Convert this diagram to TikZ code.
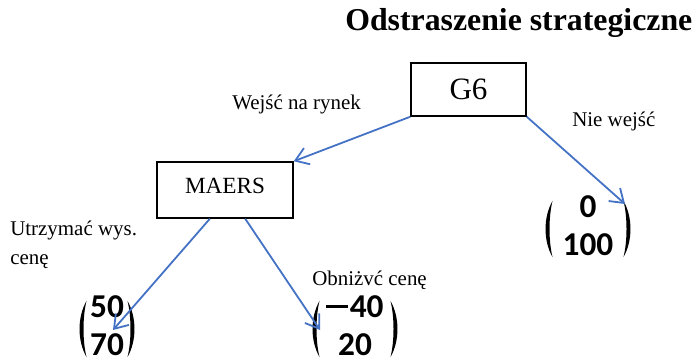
\documentclass[tikz,border=0pt]{standalone}
\usepackage{fontspec}
\setmainfont{Liberation Serif}
\newfontfamily\digitfont{Carlito}
\usetikzlibrary{arrows.meta,calc}

\definecolor{linkblue}{RGB}{68,114,196}

\tikzset{
  box/.style={draw=black, line width=1.1pt, rectangle, inner sep=0pt},
  lbl/.style={font=\fontsize{15.7}{18}\selectfont, inner sep=0pt, anchor=base west},
  heading/.style={font=\bfseries\fontsize{23.85}{28}\selectfont, inner sep=0pt, anchor=base west},
  link/.style={draw=linkblue, line width=1.35pt, -{Straight Barb[length=9.5pt,width=13pt,line width=1.35pt]}},
  mat/.style={font=\digitfont\bfseries\fontsize{25}{28.5}\selectfont, inner sep=0pt},
}

% a pair of tapered round brackets around a payoff vector
\newcommand\matparens[2]{%
  \fill ($(#1)+(-#2+7,-28)$) .. controls ($(#1)+(-#2-2.3,-12)$) and ($(#1)+(-#2-2.3,12)$) .. ($(#1)+(-#2+7,28)$)
        .. controls ($(#1)+(-#2+3,12)$) and ($(#1)+(-#2+3,-12)$) .. cycle;
  \fill ($(#1)+(#2-7,-28)$) .. controls ($(#1)+(#2+2.3,-12)$) and ($(#1)+(#2+2.3,12)$) .. ($(#1)+(#2-7,28)$)
        .. controls ($(#1)+(#2-3,12)$) and ($(#1)+(#2-3,-12)$) .. cycle;
}
% long minus sign for the payoffs
\newcommand\payminus{\rule[7.2pt]{16pt}{2.2pt}\hspace{1.5pt}}

\begin{document}
\begin{tikzpicture}[x=0.75pt,y=-0.75pt]
\useasboundingbox (0,0) rectangle (695,363);

% title
\node[heading] (title) at (345,31) {Odstraszenie strategiczne};

% decision nodes
\node[box, minimum width=86.25pt, minimum height=39.75pt, font=\fontsize{23.3}{26}\selectfont] (g6) at (468.5,89.5) {G6};
\node[box, minimum width=102pt, minimum height=42pt, text depth=6pt, font=\fontsize{17.4}{20}\selectfont] (maers) at (225,190) {MAERS};

% move labels
\node[lbl] (l1) at (232,110) {Wejść na rynek};
\node[lbl] (l2) at (572,127) {Nie wejść};
\node[lbl] (l3) at (10,235) {Utrzymać wys.};
\node[lbl] (l4) at (10,264) {cenę};
\node[lbl] (l5) at (312,285) {Obniżvć cenę};

% payoff vectors
\node[mat] (m1) at (107,329) {\begin{tabular}{@{}c@{}}50\\70\end{tabular}};
\node[mat] (m2) at (355,329) {\begin{tabular}{@{}c@{}}\payminus40\\20\end{tabular}};
\node[mat] (m3) at (588,229) {\begin{tabular}{@{}c@{}}0\\100\end{tabular}};
\matparens{m1}{27.5}
\matparens{m2}{42.5}
\matparens{m3}{42.5}

% arrow ends
\coordinate (t1) at (113,330);
\coordinate (t2) at (320,330);
\coordinate (t3) at (625,204);

% moves
\draw[link] (g6.south west) -- (maers.north east);
\draw[link] (g6.south east) -- (t3);
\draw[link] ($(maers.south west)!0.39!(maers.south east)$) -- (t1);
\draw[link] ($(maers.south west)!0.647!(maers.south east)$) -- (t2);
\end{tikzpicture}
\end{document}
